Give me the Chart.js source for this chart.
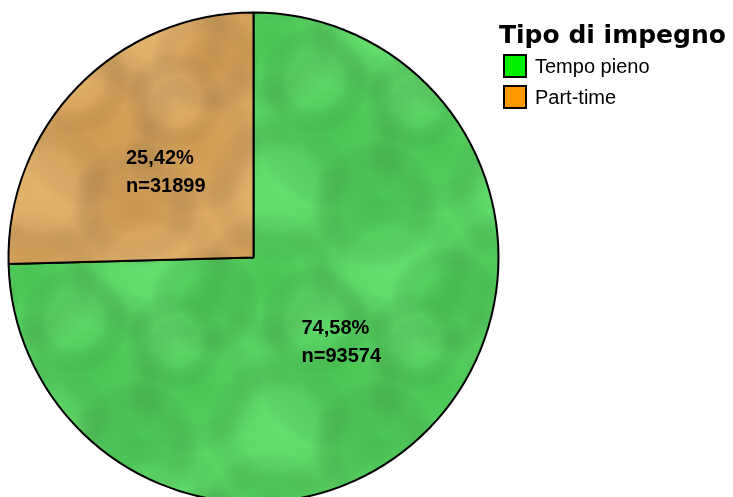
<!DOCTYPE html>
<html>
<head>
<meta charset="utf-8">
<script src="https://cdn.jsdelivr.net/npm/chart.js@4/dist/chart.umd.min.js"></script>
<style>
  html, body { margin: 0; padding: 0; background: #ffffff; }
  #wrap { width: 733px; height: 497px; position: relative; }
</style>
</head>
<body>
<div id="wrap"><canvas id="c" width="733" height="497"></canvas></div>
<script>
const legendTitle = "Tipo di impegno";
const categories = ["Tempo pieno", "Part-time"];
const percentages = [74.58, 25.42];
const counts = [93574, 31899];
const percentLabels = ["74,58%", "25,42%"];
const legendColors = ["#00ee00", "#ff9900"];

// Soft mottled texture patterns (style only)
function makePattern(base, dark, light) {
  const size = 240;
  const cv = document.createElement('canvas');
  cv.width = size; cv.height = size;
  const g = cv.getContext('2d');
  g.fillStyle = base;
  g.fillRect(0, 0, size, size);
  const blobs = [
    [30, 40, 70, dark], [150, 30, 80, light], [95, 125, 85, dark],
    [195, 145, 70, dark], [40, 190, 75, light], [135, 205, 65, dark],
    [205, 60, 55, dark], [75, 80, 55, light], [175, 100, 50, light]
  ];
  for (const [x, y, r, col] of blobs) {
    for (const dx of [-size, 0, size]) {
      for (const dy of [-size, 0, size]) {
        const cx = x + dx, cy = y + dy;
        const rg = g.createRadialGradient(cx, cy, 0, cx, cy, r);
        rg.addColorStop(0, col);
        rg.addColorStop(0.5, col.replace(/[\d.]+\)$/, m => (parseFloat(m) * 0.5) + ')'));
        rg.addColorStop(1, 'rgba(0,0,0,0)');
        g.fillStyle = rg;
        g.fillRect(cx - r, cy - r, 2 * r, 2 * r);
      }
    }
  }
  return g.createPattern(cv, 'repeat');
}

const ctx = document.getElementById('c').getContext('2d');
const greenPat = makePattern('#5ad664', 'rgba(50,165,60,0.40)', 'rgba(120,235,130,0.35)');
const orangePat = makePattern('#dcaa64', 'rgba(185,128,58,0.40)', 'rgba(240,198,130,0.35)');

const overlay = {
  id: 'overlay',
  afterDraw(chart) {
    const c = chart.ctx;
    const meta = chart.getDatasetMeta(0);
    c.save();
    // slice labels
    c.font = 'bold 20px "Liberation Sans", Arial, sans-serif';
    c.fillStyle = '#000';
    c.textBaseline = 'middle';
    c.textAlign = 'left';
    meta.data.forEach((arc, i) => {
      const p = arc.tooltipPosition();
      const l1 = percentLabels[i];
      const l2 = 'n=' + counts[i];
      const w = Math.max(c.measureText(l1).width, c.measureText(l2).width);
      const x0 = p.x - w / 2;
      c.fillText(l1, x0, p.y - 14);
      c.fillText(l2, x0, p.y + 14);
    });
    // legend
    c.font = 'bold 25px "DejaVu Sans", Verdana, sans-serif';
    c.textBaseline = 'alphabetic';
    c.fillText(legendTitle, 499, 43);
    c.font = '20px "Liberation Sans", Arial, sans-serif';
    categories.forEach((lab, i) => {
      const y = 55 + i * 31;
      c.fillStyle = legendColors[i];
      c.fillRect(504, y, 22, 22);
      c.strokeStyle = '#000';
      c.lineWidth = 2;
      c.strokeRect(504, y, 22, 22);
      c.fillStyle = '#000';
      c.textBaseline = 'middle';
      c.fillText(lab, 535, y + 12);
    });
    c.restore();
  }
};

new Chart(ctx, {
  type: 'pie',
  data: {
    labels: categories,
    datasets: [{
      data: percentages,
      backgroundColor: [greenPat, orangePat],
      borderColor: '#000',
      borderWidth: 2,
      radius: 245
    }]
  },
  options: {
    responsive: false,
    animation: false,
    layout: { padding: { left: 0, right: 226, top: 18, bottom: 0 } },
    plugins: {
      legend: { display: false },
      tooltip: { enabled: false }
    }
  },
  plugins: [overlay]
});
</script>
</body>
</html>
